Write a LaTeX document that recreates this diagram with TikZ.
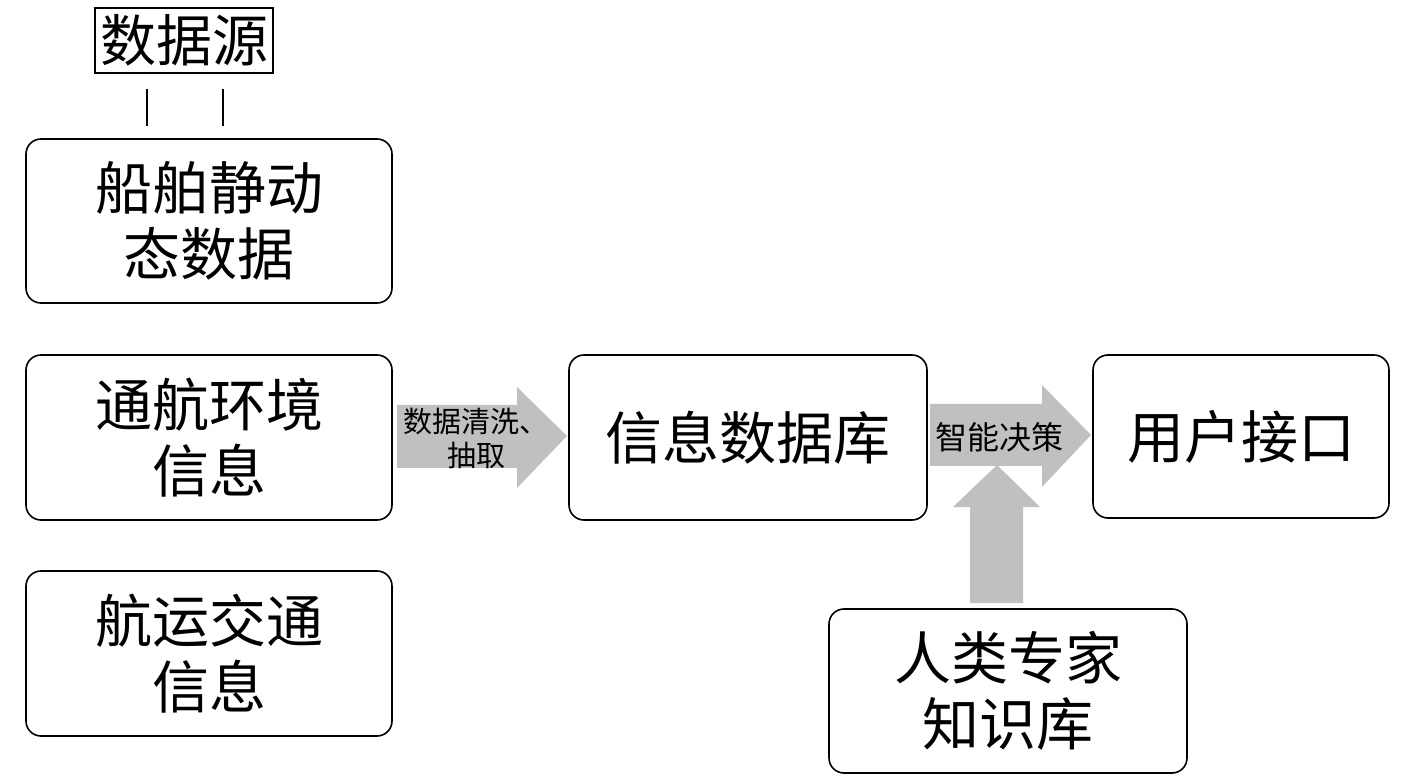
\documentclass[tikz,border=0pt]{standalone}
\usepackage{fontspec}
\setmainfont{Noto Sans CJK SC}
\tikzstyle{infobox}=[draw, line width=1.6pt, rounded corners=15pt, align=center, inner sep=0pt, font=\fontsize{57}{66}\selectfont]
\tikzstyle{arrowfill}=[fill={rgb,255:red,192;green,192;blue,192}]
\tikzstyle{arrowtext}=[align=center, inner sep=0pt]

\begin{document}
\begin{tikzpicture}[x=1pt, y=-1pt]
\useasboundingbox (0,0) rectangle (1417,783);
% Source label
    \node[draw, line width=1.6pt, inner sep=0pt, minimum width=178pt, minimum height=65pt, font=\fontsize{56}{60}\selectfont] (src) at (184,40.5) {数据源};
    \draw[line width=1.6pt] ([xshift=-37pt, yshift=-15pt]src.south) -- ++(0,37);
    \draw[line width=1.6pt] ([xshift=39pt, yshift=-15pt]src.south) -- ++(0,37);
% Boxes
    \node[infobox, minimum width=366pt, minimum height=164pt] (ship) at (209,221) {船舶静动\\态数据};
    \node[infobox, minimum width=366pt, minimum height=165pt] (env) at (209,437.5) {通航环境\\信息};
    \node[infobox, minimum width=366pt, minimum height=165pt] (traffic) at (209,653.5) {航运交通\\信息};
    \node[infobox, minimum width=358pt, minimum height=165pt] (db) at (748,437.5) {信息数据库};
    \node[infobox, minimum width=296pt, minimum height=163pt] (user) at (1241,436.5) {用户接口};
    \node[infobox, minimum width=358pt, minimum height=164pt] (expert) at (1008,691) {人类专家\\知识库};
% Arrows
    \fill[arrowfill] (397,405) -- (517,405) -- (517,387) -- (567,436) -- (517,488) -- (517,468) -- (397,468) -- cycle;
    \fill[arrowfill] (930,404) -- (1042,404) -- (1042,385) -- (1091,435) -- (1042,487) -- (1042,466) -- (930,466) -- cycle;
    \fill[arrowfill] (970,603) -- (970,507) -- (953,507) -- (997,465) -- (1040,507) -- (1023,507) -- (1023,603) -- cycle;
% Arrow labels
    \node[arrowtext, font=\fontsize{29}{34}\selectfont] (clean) at (476,438) {数据清洗、\\抽取};
    \node[arrowtext, font=\fontsize{32}{36}\selectfont] (decide) at (999,437) {智能决策};
\end{tikzpicture}
\end{document}
